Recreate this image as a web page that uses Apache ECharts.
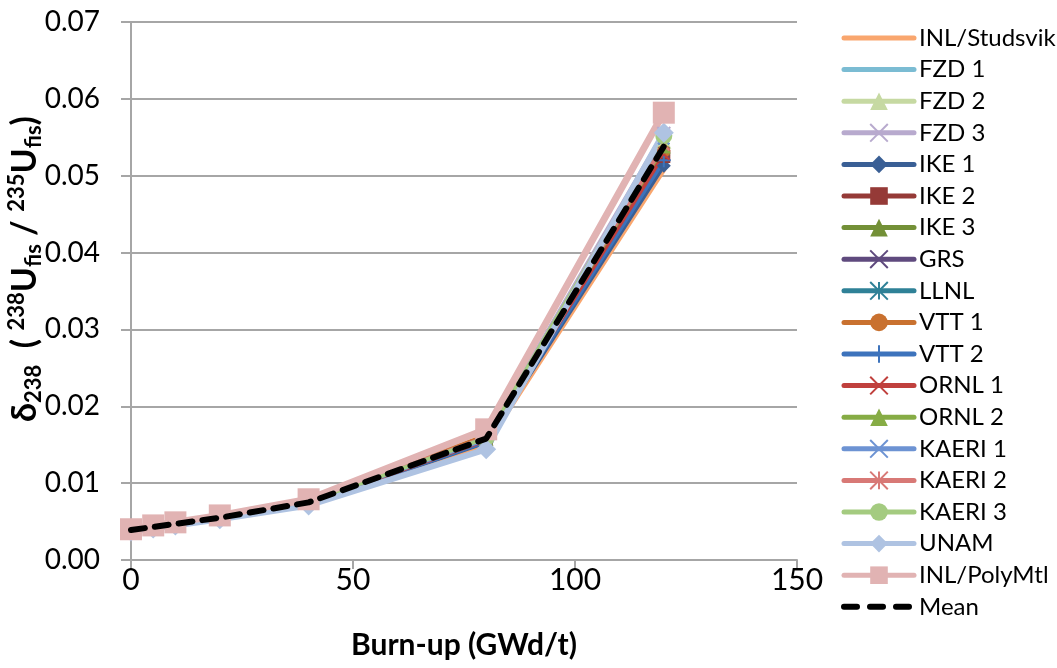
<!DOCTYPE html>
<html><head><meta charset="utf-8">
<script src="https://cdn.jsdelivr.net/npm/echarts@6/dist/echarts.min.js"></script>
<style>html,body{margin:0;padding:0;background:#fff}#c{width:1057px;height:668px}</style>
</head><body><div id="c"></div>
<script>
const burnup = [0, 5, 10, 20, 40, 80, 120];
const xTicks = [0, 50, 100, 150];
const yTicks = [0, 0.01, 0.02, 0.03, 0.04, 0.05, 0.06, 0.07];
const seriesNames = ["INL/Studsvik","FZD 1","FZD 2","FZD 3","IKE 1","IKE 2","IKE 3","GRS","LLNL","VTT 1","VTT 2","ORNL 1","ORNL 2","KAERI 1","KAERI 2","KAERI 3","UNAM","INL/PolyMtl","Mean"];
const inlStudsvik = [0.0039, 0.0043, 0.0047, 0.0055, 0.0074, 0.0150, 0.0508];
const fzd1 = [0.0039, 0.0043, 0.0047, 0.0055, 0.0075, 0.0157, 0.0548];
const fzd2 = [0.0039, 0.0043, 0.0047, 0.0055, 0.0075, 0.0158, 0.0545];
const fzd3 = [0.0039, 0.0043, 0.0047, 0.0055, 0.0075, 0.0160, 0.0555];
const ike1 = [0.0038, 0.0042, 0.0046, 0.0054, 0.0073, 0.0153, 0.0513];
const ike2 = [0.0038, 0.0043, 0.0047, 0.0055, 0.0074, 0.0155, 0.0525];
const ike3 = [0.0039, 0.0043, 0.0047, 0.0055, 0.0075, 0.0157, 0.0535];
const grs = [0.0039, 0.0043, 0.0047, 0.0055, 0.0075, 0.0156, 0.0530];
const llnl = [0.0039, 0.0043, 0.0047, 0.0055, 0.0075, 0.0158, 0.0548];
const vtt1 = [0.0040, 0.0044, 0.0048, 0.0057, 0.0078, 0.0162, 0.0532];
const vtt2 = [0.0038, 0.0043, 0.0047, 0.0055, 0.0074, 0.0154, 0.0520];
const ornl1 = [0.0039, 0.0043, 0.0047, 0.0055, 0.0074, 0.0156, 0.0528];
const ornl2 = [0.0039, 0.0043, 0.0047, 0.0055, 0.0075, 0.0158, 0.0538];
const kaeri1 = [0.0039, 0.0043, 0.0047, 0.0055, 0.0075, 0.0157, 0.0548];
const kaeri2 = [0.0039, 0.0044, 0.0048, 0.0056, 0.0076, 0.0160, 0.0540];
const kaeri3 = [0.0039, 0.0043, 0.0047, 0.0055, 0.0075, 0.0159, 0.0552];
const unam = [0.0037, 0.0041, 0.0045, 0.0053, 0.0071, 0.0144, 0.0556];
const inlPolyMtl = [0.0040, 0.0045, 0.0049, 0.0058, 0.0079, 0.0170, 0.0582];
const mean = [0.0039, 0.0043, 0.0047, 0.0055, 0.0075, 0.0158, 0.0538];

const seriesValues = [inlStudsvik, fzd1, fzd2, fzd3, ike1, ike2, ike3, grs, llnl, vtt1, vtt2, ornl1, ornl2, kaeri1, kaeri2, kaeri3, unam, inlPolyMtl, mean];

const X_PATH = 'path://M0,0L10,10M10,0L0,10';
const AST_PATH = 'path://M0,0L10,10M10,0L0,10M5,0L5,10';
const PLUS_PATH = 'path://M5,0L5,10M0,5L10,5';
const styles = [
  {c:'#F9A66E', s:'none', z:0, w:5},
  {c:'#7BBCD3', s:'none', z:0, w:5},
  {c:'#C6D9A2', s:'triangle', z:15, w:5},
  {c:'#B8AACE', s:X_PATH, z:13, w:5},
  {c:'#3A5F95', s:'diamond', z:14, w:4},
  {c:'#953A37', s:'rect', z:13, w:4},
  {c:'#739037', s:'triangle', z:13, w:4},
  {c:'#5F4A7E', s:X_PATH, z:11, w:4},
  {c:'#2F8197', s:AST_PATH, z:11, w:4},
  {c:'#C9712F', s:'circle', z:13, w:4},
  {c:'#3D73BC', s:PLUS_PATH, z:14, w:4},
  {c:'#C0403D', s:X_PATH, z:11, w:4},
  {c:'#86AC45', s:'triangle', z:14, w:4},
  {c:'#6D93D3', s:X_PATH, z:11, w:4},
  {c:'#D87976', s:AST_PATH, z:11, w:4},
  {c:'#A4CB80', s:'circle', z:17, w:4},
  {c:'#AFC3E2', s:'diamond', z:20, w:6},
  {c:'#E1B3B3', s:'rect', z:22, w:7},
  {c:'#000000', s:'none', z:0, w:6}
];

const series = seriesNames.map((name, i) => {
  const st = styles[i];
  const isPath = st.s.startsWith('path://');
  const s = {
    name: name,
    type: 'line',
    data: burnup.map((x, j) => [x, seriesValues[i][j]]),
    symbol: st.s,
    symbolSize: st.z,
    showSymbol: st.s !== 'none',
    lineStyle: {color: st.c, width: st.w, cap: 'round', join: 'round'},
    itemStyle: isPath ? {color: st.c, borderColor: st.c, borderWidth: 2} : {color: st.c, borderColor: st.c, borderWidth: 0},
    emphasis: {disabled: true},
    animation: false
  };
  if (name === 'Mean') {
    s.lineStyle = {color: '#000', width: 6, type: [14, 10], cap: 'round'};
    s.z = 5;
  }
  return s;
});

const legendData = seriesNames.map((name, i) => {
  const st = styles[i];
  const item = {name: name, lineStyle: {width: 5}};
  if (st.s === 'none') item.itemStyle = {opacity: 0};
  if (name === 'Mean') item.lineStyle = {width: 6, type: [13, 13], color: '#000', cap: 'round'};
  return item;
});

const FONT = 'Lato, "Open Sans", sans-serif';
const chart = echarts.init(document.getElementById('c'));
chart.setOption({
  animation: false,
  textStyle: {fontFamily: FONT},
  grid: {left: 131, right: 260, top: 22, bottom: 108, containLabel: false, outerBoundsMode: 'none'},
  legend: {
    orient: 'vertical', left: 836, top: 21,
    itemWidth: 70, itemHeight: 22, itemGap: 7.6,
    textStyle: {fontSize: 24, color: '#000', fontFamily: FONT},
    data: legendData
  },
  xAxis: {
    type: 'value', min: xTicks[0], max: xTicks[xTicks.length - 1], interval: 50,
    name: 'Burn-up (GWd/t)', nameLocation: 'middle', nameGap: 70,
    nameTextStyle: {fontSize: 30, fontWeight: 'bold', color: '#000', fontFamily: FONT},
    axisLine: {show: true, lineStyle: {color: '#A6A6A6', width: 2}},
    axisTick: {show: true, inside: false, length: 9, lineStyle: {color: '#A6A6A6', width: 2}},
    axisLabel: {fontSize: 30, color: '#000', margin: 5, fontFamily: FONT},
    splitLine: {show: false}
  },
  yAxis: {
    type: 'value', min: yTicks[0], max: yTicks[yTicks.length - 1], interval: 0.01,
    name: '{b|δ}{bs|238}{b|  ( }{bp|238}{b|U}{bs|fis}{b| / }{bp|235}{b|U}{bs|fis}{b|)}',
    nameLocation: 'middle', nameGap: 86, nameRotate: 90, nameMoveOverlap: false,
    nameTextStyle: {
      fontSize: 34, fontWeight: 'bold', color: '#000', fontFamily: FONT,
      padding: [0, 0, 0, 44],
      rich: {
        b: {fontSize: 34, fontWeight: 'bold', color: '#000', fontFamily: FONT},
        bs: {fontSize: 22, fontWeight: 'bold', color: '#000', fontFamily: FONT, padding: [18, 0, 0, 0]},
        bp: {fontSize: 22, fontWeight: 'bold', color: '#000', fontFamily: FONT, padding: [0, 0, 16, 0]}
      }
    },
    axisLine: {show: true, lineStyle: {color: '#A6A6A6', width: 2}},
    axisTick: {show: true, inside: false, length: 10, lineStyle: {color: '#A6A6A6', width: 2}},
    axisLabel: {fontSize: 28, color: '#000', margin: 31, fontFamily: FONT, formatter: v => v.toFixed(2)},
    splitLine: {show: true, lineStyle: {color: '#A6A6A6', width: 2}}
  },
  series: series
});
</script></body></html>
